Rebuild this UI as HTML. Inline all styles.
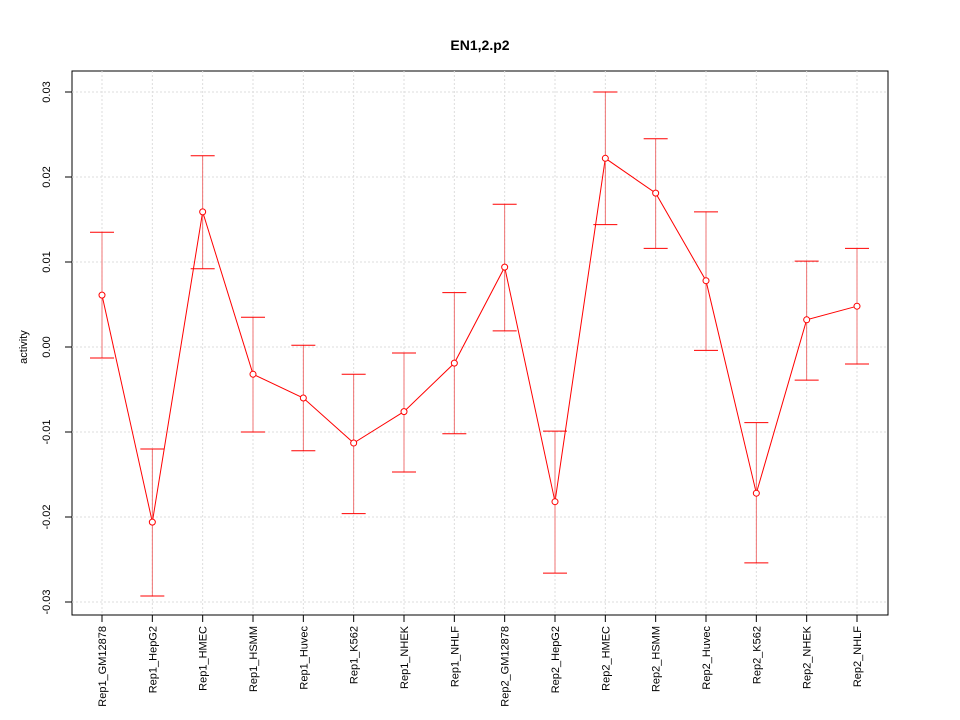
<!DOCTYPE html>
<html><head><meta charset="utf-8"><style>body{margin:0;background:#fff}svg{display:block;font-family:"Liberation Sans",sans-serif}</style></head>
<body>
<svg id="chart" width="960" height="720">
<text x="480" y="50" text-anchor="middle" font-size="14" font-weight="bold">EN1,2.p2</text>
<rect x="72" y="71" width="816" height="544" fill="none" stroke="#000"/>
<text transform="translate(27,347) rotate(-90)" text-anchor="middle" font-size="11">activity</text>
<g id="grid"></g><g id="axes"></g><g id="series"></g>
</svg>
<script>
const categories=["Rep1_GM12878","Rep1_HepG2","Rep1_HMEC","Rep1_HSMM","Rep1_Huvec","Rep1_K562","Rep1_NHEK","Rep1_NHLF","Rep2_GM12878","Rep2_HepG2","Rep2_HMEC","Rep2_HSMM","Rep2_Huvec","Rep2_K562","Rep2_NHEK","Rep2_NHLF"];
const values=[0.0061,-0.0206,0.0159,-0.0032,-0.0060,-0.0113,-0.0076,-0.0019,0.0094,-0.0182,0.0222,0.0181,0.0078,-0.0172,0.0032,0.0048];
const upper=[0.0135,-0.0120,0.0225,0.0035,0.0002,-0.0032,-0.0007,0.0064,0.0168,-0.0099,0.0300,0.0245,0.0159,-0.0089,0.0101,0.0116];
const lower=[-0.0013,-0.0293,0.0092,-0.0100,-0.0122,-0.0196,-0.0147,-0.0102,0.0019,-0.0266,0.0144,0.0116,-0.0004,-0.0254,-0.0039,-0.0020];
const yTicks=[-0.03,-0.02,-0.01,0,0.01,0.02,0.03];
const yLabels=["-0.03","-0.02","-0.01","0.00","0.01","0.02","0.03"];
const NS="http://www.w3.org/2000/svg";
const xS=i=>102+i*(857-102)/15;
const yS=v=>347-v*8500;
function mk(tag,attrs,parent,txt){const e=document.createElementNS(NS,tag);for(const k in attrs)e.setAttribute(k,attrs[k]);if(txt!==undefined)e.textContent=txt;document.getElementById(parent).appendChild(e);return e;}
yTicks.forEach((t,i)=>{
 let g=mk('line',{x1:72,x2:888,y1:yS(t),y2:yS(t),stroke:'#ddd','stroke-dasharray':'2,2'},'grid');
 
 
 let tk=mk('line',{x1:65,x2:72,y1:yS(t),y2:yS(t),stroke:'#000'},'axes');
 
 
 let lb=mk('text',{transform:`translate(50,${yS(t)}) rotate(-90)`,'text-anchor':'middle','font-size':11},'axes',yLabels[i]);
 
 
});
categories.forEach((c,i)=>{
 const x=xS(i);
 let g=mk('line',{x1:x,x2:x,y1:71,y2:615,stroke:'#ddd','stroke-dasharray':'2,2'},'grid');
 
 
 let tk=mk('line',{x1:x,x2:x,y1:615,y2:622,stroke:'#000'},'axes');
 
 
 let lb=mk('text',{transform:`translate(${x+4},626) rotate(-90)`,'text-anchor':'end','font-size':11},'axes',c);
 
 
});
const pts=values.map((v,i)=>xS(i)+','+yS(v)).join(' ');
let pl=mk('polyline',{points:pts,fill:'none',stroke:'#f00','stroke-width':1},'series');


values.forEach((v,i)=>{
 const x=xS(i);
 let eb=mk('line',{x1:x,x2:x,y1:yS(upper[i]),y2:yS(lower[i]),stroke:'#e66','stroke-width':0.9},'series');
 
 
 [upper[i],lower[i]].forEach(u=>{
  let cap=mk('line',{x1:x-12,x2:x+12,y1:yS(u),y2:yS(u),stroke:'#f00'},'series');
  
  
 });
 let p=mk('circle',{cx:x,cy:yS(v),r:3,fill:'#fff',stroke:'#f00'},'series');
 
 
});
</script>
</body></html>
